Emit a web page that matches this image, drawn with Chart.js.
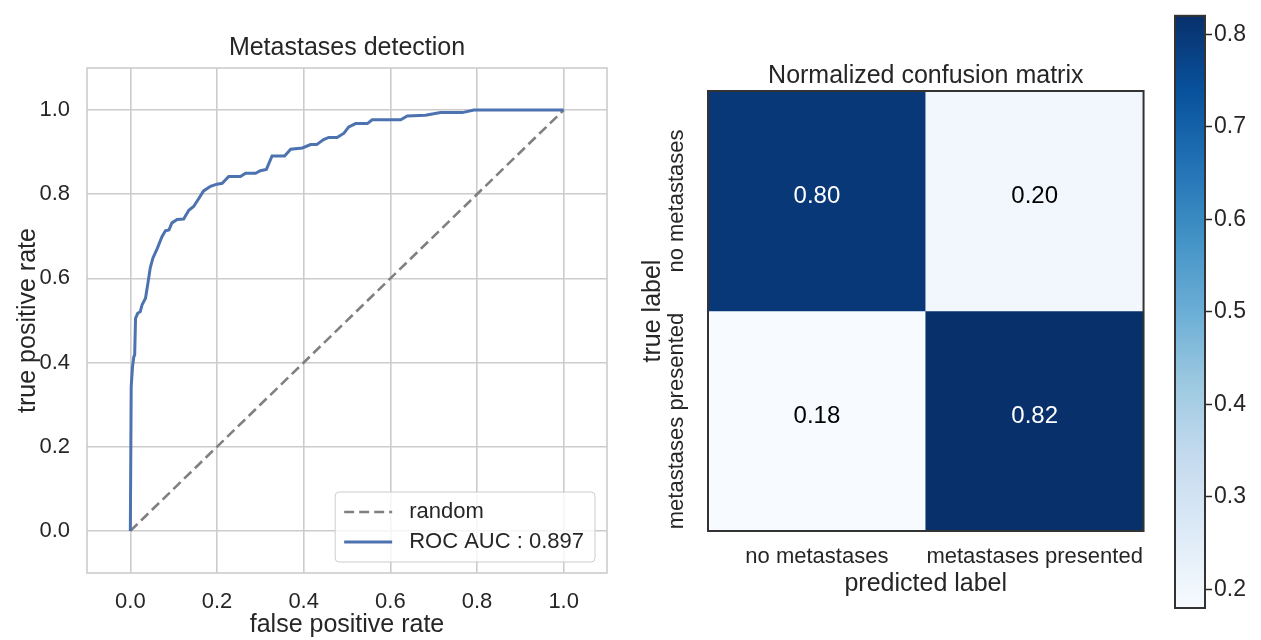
<!DOCTYPE html>
<html lang="en">
<head>
<meta charset="UTF-8">
<title>Metastases detection</title>
<script src="https://cdn.jsdelivr.net/npm/chart.js"></script>
<style>
  body { margin: 0; background: #fff; }
  canvas { position: absolute; top: 0; }
</style>
</head>
<body>
<canvas id="rocChart" width="620" height="640" style="left:0"></canvas>
<canvas id="cmChart" width="540" height="640" style="left:620px"></canvas>
<canvas id="cbChart" width="101" height="640" style="left:1160px"></canvas>
<script>
// ROC curve
const rocFpr = [0, 0.002, 0.005, 0.008, 0.010, 0.012, 0.017, 0.023, 0.027, 0.035, 0.040, 0.046, 0.052,
  0.062, 0.073, 0.081, 0.089, 0.096, 0.108, 0.123, 0.135, 0.146, 0.158, 0.169, 0.185, 0.200, 0.212,
  0.227, 0.254, 0.266, 0.289, 0.300, 0.314, 0.327, 0.356, 0.370, 0.397, 0.416, 0.430, 0.446, 0.458,
  0.477, 0.493, 0.504, 0.520, 0.547, 0.558, 0.624, 0.639, 0.681, 0.716, 0.766, 0.793, 1.0];
const rocTpr = [0, 0.343, 0.390, 0.414, 0.418, 0.505, 0.517, 0.521, 0.537, 0.553, 0.585, 0.625, 0.648,
  0.671, 0.699, 0.713, 0.715, 0.732, 0.740, 0.741, 0.762, 0.771, 0.790, 0.808, 0.819, 0.824, 0.826,
  0.842, 0.842, 0.850, 0.850, 0.856, 0.859, 0.891, 0.891, 0.907, 0.910, 0.918, 0.918, 0.930, 0.935,
  0.935, 0.945, 0.960, 0.968, 0.968, 0.977, 0.977, 0.986, 0.988, 0.994, 0.994, 1.0, 1.0];
const randomX = [0, 1];
const randomY = [0, 1];
const rocLabel = 'ROC AUC : 0.897';
const rocTicks = [0, 0.2, 0.4, 0.6, 0.8, 1.0];

// confusion matrix
const predLabels = ['no metastases', 'metastases presented'];
const trueLabels = ['no metastases', 'metastases presented'];
const cmValues = [[0.80, 0.20], [0.18, 0.82]];
const cbTicks = [0.2, 0.3, 0.4, 0.5, 0.6, 0.7, 0.8];

const FONT = "'Liberation Sans', Arial, sans-serif";
const TEXT = '#262626';
Chart.defaults.font.family = FONT;
Chart.defaults.color = TEXT;

const cmMin = Math.min(...cmValues.flat());
const cmMax = Math.max(...cmValues.flat());
const cmThresh = cmMax / 2;

const bluesStops = ['#f7fbff', '#deebf7', '#c6dbef', '#9ecae1', '#6baed6', '#4292c6', '#2171b5', '#08519c', '#08306b'];
function hexToRgb(h) {
  return [parseInt(h.slice(1, 3), 16), parseInt(h.slice(3, 5), 16), parseInt(h.slice(5, 7), 16)];
}
function blues(t) {
  t = Math.min(1, Math.max(0, t));
  const n = bluesStops.length - 1;
  const i = Math.min(n - 1, Math.floor(t * n));
  const f = t * n - i;
  const a = hexToRgb(bluesStops[i]), b = hexToRgb(bluesStops[i + 1]);
  const c = a.map((v, k) => Math.round(v + (b[k] - v) * f));
  return 'rgb(' + c.join(',') + ')';
}

// frame + legend for the ROC plot
const rocDecor = {
  id: 'rocDecor',
  afterDraw(chart) {
    const { ctx, chartArea } = chart;
    ctx.save();
    ctx.strokeStyle = '#cccccc';
    ctx.lineWidth = 1.6;
    ctx.strokeRect(chartArea.left, chartArea.top, chartArea.width, chartArea.height);

    ctx.font = '22px ' + FONT;
    const items = chart.data.datasets;
    const textW = Math.max(...items.map(d => ctx.measureText(d.label).width));
    const rowH = 30, handle = 48, padL = 9, gap = 17, padR = 11, padV = 5;
    const w = padL + handle + gap + textW + padR;
    const h = rowH * items.length + padV * 2;
    const x0 = chartArea.right - 12 - w;
    const y0 = chartArea.bottom - 11 - h;
    ctx.beginPath();
    ctx.roundRect(x0, y0, w, h, 4);
    ctx.fillStyle = 'rgba(255,255,255,0.8)';
    ctx.fill();
    ctx.strokeStyle = '#cccccc';
    ctx.lineWidth = 1;
    ctx.stroke();
    items.forEach((d, i) => {
      const cy = y0 + padV + rowH * (i + 0.5);
      ctx.beginPath();
      ctx.setLineDash(d.borderDash || []);
      ctx.strokeStyle = d.borderColor;
      ctx.lineWidth = d.borderWidth;
      ctx.moveTo(x0 + padL, cy);
      ctx.lineTo(x0 + padL + handle, cy);
      ctx.stroke();
      ctx.setLineDash([]);
      ctx.fillStyle = TEXT;
      ctx.textAlign = 'left';
      ctx.textBaseline = 'middle';
      ctx.fillText(d.label, x0 + padL + handle + gap, cy);
    });
    ctx.restore();
  }
};

new Chart(document.getElementById('rocChart'), {
  type: 'scatter',
  data: {
    datasets: [
      {
        label: 'random',
        data: randomX.map((x, i) => ({ x: x, y: randomY[i] })),
        showLine: true, borderColor: '#808080', borderWidth: 2.6, borderDash: [10, 5],
        pointRadius: 0, order: 2
      },
      {
        label: rocLabel,
        data: rocFpr.map((x, i) => ({ x: x, y: rocTpr[i] })),
        showLine: true, borderColor: '#4c72b0', borderWidth: 3,
        pointRadius: 0, order: 1
      }
    ]
  },
  options: {
    responsive: false,
    animation: false,
    layout: { padding: { left: 0, right: 13, top: 0, bottom: 0 } },
    plugins: {
      legend: { display: false },
      tooltip: { enabled: false },
      title: {
        display: true, text: 'Metastases detection', fullSize: false, color: TEXT,
        font: { size: 25, weight: 'normal' }, padding: { top: 33, bottom: 5 }
      }
    },
    scales: {
      x: {
        type: 'linear', min: -0.1, max: 1.1,
        afterBuildTicks: s => { s.ticks = rocTicks.map(v => ({ value: v })); },
        afterFit: s => { s.height = 67; },
        ticks: { callback: v => v.toFixed(1), font: { size: 22 }, padding: 16, color: TEXT },
        grid: { color: '#cccccc', lineWidth: 1.6, drawTicks: false },
        border: { display: false },
        title: { display: true, text: 'false positive rate', color: TEXT, font: { size: 25 }, padding: { top: 0, bottom: 0 } }
      },
      y: {
        type: 'linear', min: -0.1, max: 1.1,
        afterBuildTicks: s => { s.ticks = rocTicks.map(v => ({ value: v })); },
        afterFit: s => { s.width = 87; },
        ticks: { callback: v => v.toFixed(1), font: { size: 22 }, padding: 17, color: TEXT },
        grid: { color: '#cccccc', lineWidth: 1.6, drawTicks: false },
        border: { display: false },
        title: { display: true, text: 'true positive rate', color: TEXT, font: { size: 25 }, padding: { top: 13, bottom: 0 } }
      }
    }
  },
  plugins: [rocDecor]
});

// cell texts, rotated row labels and frame for the matrix
const cmDecor = {
  id: 'cmDecor',
  afterDraw(chart) {
    const { ctx, chartArea, scales: { x, y } } = chart;
    ctx.save();
    ctx.textAlign = 'center';
    ctx.textBaseline = 'middle';
    ctx.font = '24px ' + FONT;
    cmValues.forEach((row, i) => row.forEach((v, j) => {
      ctx.fillStyle = v > cmThresh ? '#ffffff' : '#000000';
      ctx.fillText(v.toFixed(2), x.getPixelForValue(j), y.getPixelForValue(i + 0.5) - 5);
    }));
    ctx.font = '22px ' + FONT;
    ctx.fillStyle = TEXT;
    trueLabels.forEach((lab, i) => {
      ctx.save();
      ctx.translate(chartArea.left - 31, y.getPixelForValue(i + 0.5));
      ctx.rotate(-Math.PI / 2);
      ctx.fillText(lab, 0, 0);
      ctx.restore();
    });
    ctx.strokeStyle = '#333333';
    ctx.lineWidth = 2;
    ctx.strokeRect(chartArea.left, chartArea.top, chartArea.width, chartArea.height);
    ctx.restore();
  }
};

new Chart(document.getElementById('cmChart'), {
  type: 'bar',
  data: {
    labels: predLabels,
    datasets: cmValues.map((row, i) => ({
      label: trueLabels[i],
      data: row.map(() => [i, i + 1]),
      backgroundColor: row.map(v => blues((v - cmMin) / (cmMax - cmMin))),
      barPercentage: 1, categoryPercentage: 1, grouped: false, borderWidth: 0
    }))
  },
  options: {
    responsive: false,
    animation: false,
    layout: { padding: { left: 0, right: 12, top: 0, bottom: 0 } },
    plugins: {
      legend: { display: false },
      tooltip: { enabled: false },
      title: {
        display: true, text: 'Normalized confusion matrix', fullSize: false, color: TEXT,
        font: { size: 25, weight: 'normal' }, padding: { top: 61, bottom: 0 }
      }
    },
    scales: {
      x: {
        afterFit: s => { s.height = 109; },
        ticks: { font: { size: 22 }, padding: 13, maxRotation: 0, autoSkip: false, color: TEXT },
        grid: { display: false, drawTicks: false },
        border: { display: false },
        title: { display: true, text: 'predicted label', color: TEXT, font: { size: 25 }, padding: { top: 0, bottom: 41 } }
      },
      y: {
        min: 0, max: 2, reverse: true,
        afterFit: s => { s.width = 88; },
        ticks: { display: false },
        grid: { display: false, drawTicks: false },
        border: { display: false },
        title: { display: true, text: 'true label', color: TEXT, font: { size: 25 }, padding: { top: 18, bottom: 0 } }
      }
    }
  },
  plugins: [cmDecor]
});

// colorbar
const cbFrame = {
  id: 'cbFrame',
  afterDraw(chart) {
    const { ctx, chartArea } = chart;
    ctx.save();
    ctx.strokeStyle = '#333333';
    ctx.lineWidth = 2;
    ctx.strokeRect(chartArea.left, chartArea.top, chartArea.width, chartArea.height);
    ctx.restore();
  }
};

new Chart(document.getElementById('cbChart'), {
  type: 'bar',
  data: {
    labels: [''],
    datasets: [{
      data: [[cmMin, cmMax]],
      backgroundColor: c => {
        const chart = c.chart;
        if (!chart.chartArea) return null;
        const ys = chart.scales.y;
        const g = chart.ctx.createLinearGradient(0, ys.getPixelForValue(cmMin), 0, ys.getPixelForValue(cmMax));
        bluesStops.forEach((col, i) => g.addColorStop(i / (bluesStops.length - 1), col));
        return g;
      },
      barPercentage: 1, categoryPercentage: 1, borderWidth: 0
    }]
  },
  options: {
    responsive: false,
    animation: false,
    layout: { padding: { left: 15, right: 0, top: 12, bottom: 32 } },
    plugins: { legend: { display: false }, tooltip: { enabled: false } },
    scales: {
      x: { display: false },
      y: {
        position: 'right', min: cmMin, max: cmMax,
        afterBuildTicks: s => { s.ticks = cbTicks.map(v => ({ value: v })); },
        afterFit: s => { s.width = 56; },
        ticks: { callback: v => v.toFixed(1), font: { size: 23 }, padding: 2, color: TEXT },
        grid: { drawOnChartArea: false, drawTicks: true, tickLength: 7, color: TEXT, tickWidth: 1.5 },
        border: { display: false }
      }
    }
  },
  plugins: [cbFrame]
});
</script>
</body>
</html>
